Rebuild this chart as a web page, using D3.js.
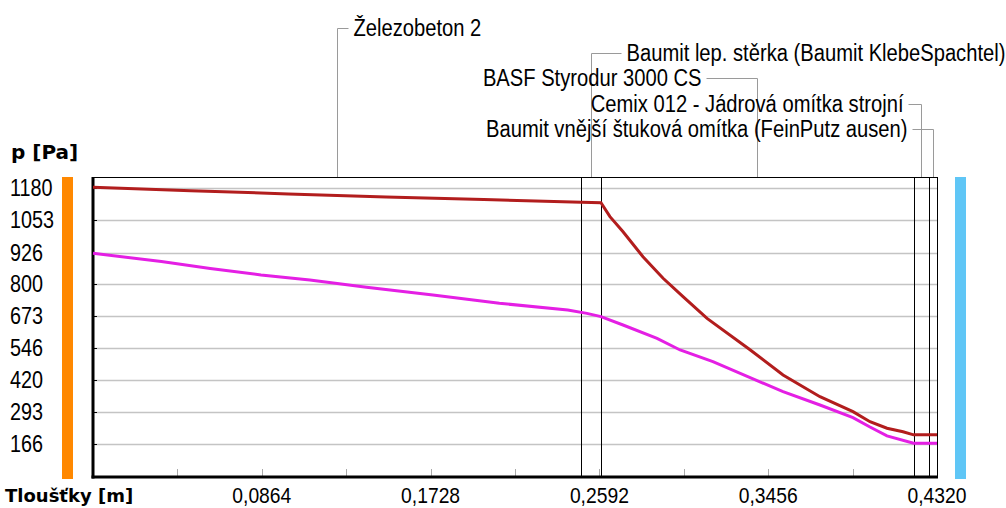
<!DOCTYPE html>
<html>
<head>
<meta charset="utf-8">
<script src="https://cdn.jsdelivr.net/npm/d3@7"></script>
<style>
  body { margin: 0; background: #fff; }
  svg { display: block; }
</style>
</head>
<body>
<div id="chart"></div>
<script>
// layers of the wall, from inside (left) to outside (right)
var layerNames = [
    'Železobeton 2',
    'Baumit lep. stěrka (Baumit KlebeSpachtel)',
    'BASF Styrodur 3000 CS',
    'Cemix 012 - Jádrová omítka strojní',
    'Baumit vnější štuková omítka (FeinPutz ausen)'
]
var layerThickness = [0.25, 0.01, 0.16, 0.008, 0.004]

// axis ticks
var yTicks = [1180, 1053, 926, 800, 673, 546, 420, 293, 166]
var xTicks = [0.0864, 0.1728, 0.2592, 0.3456, 0.4320]

// saturated vapour pressure (red)
var satX = [0, 0.05, 0.10, 0.15, 0.20, 0.25, 0.26, 0.2646, 0.2713, 0.2815, 0.2918, 0.302, 0.3143, 0.3363, 0.3532, 0.3721, 0.389, 0.3977, 0.4064, 0.4146, 0.42, 0.428, 0.432]
var satP = [1184, 1171, 1158, 1146, 1136, 1125, 1123, 1068, 1008, 909, 824, 751, 665, 541, 441, 355, 296, 256, 230, 216, 204, 204, 204]

// partial vapour pressure (magenta)
var parX = [0, 0.035, 0.06, 0.086, 0.111, 0.140, 0.174, 0.208, 0.243, 0.2528, 0.26, 0.2713, 0.2887, 0.3005, 0.3173, 0.3414, 0.3532, 0.3721, 0.389, 0.3977, 0.4064, 0.42, 0.428, 0.432]
var parP = [923, 890, 863, 837, 817, 788, 758, 725, 698, 685, 672, 639, 586, 540, 494, 414, 375, 322, 272, 235, 200, 171, 171, 171]

var width = 1006,
    height = 508,
    plotLeft = 93, plotRight = 937, plotTop = 177, plotBottom = 477

// check whether a narrow font is present, otherwise squeeze the normal one
var narrowFont = "'Liberation Sans Narrow', 'Arial Narrow'"
var ctx = document.createElement('canvas').getContext('2d')
ctx.font = "20px " + narrowFont + ", monospace"
var wNarrow = ctx.measureText('Baumit 0123').width
ctx.font = "20px monospace"
var wMono = ctx.measureText('Baumit 0123').width
var hasNarrow = Math.abs(wNarrow - wMono) > 0.5
var fontFam = hasNarrow ? narrowFont + ", sans-serif" : "'Liberation Sans', Arial, sans-serif"
var squeeze = hasNarrow ? 1 : 0.82

var svg = d3.select('#chart')
    .append('svg')
    .attr('width', width)
    .attr('height', height)

var x = d3.scaleLinear().domain([0, 0.432]).range([plotLeft, plotRight])
var y = d3.scaleLinear().domain([37, 1225]).range([plotBottom, plotTop])

// helper: narrow text placed with a transform
function label(g, tx, ty, str, anchor, size, stretch) {
    return g.append('text')
        .attr('transform', 'translate(' + tx + ',' + ty + ') scale(' + (squeeze * stretch) + ',1)')
        .attr('text-anchor', anchor)
        .style('font-family', fontFam)
        .style('font-size', size + 'px')
        .attr('fill', '#000')
        .text(str)
}

// side bars
svg.append('rect').attr('x', 62).attr('y', plotTop).attr('width', 11).attr('height', plotBottom - plotTop + 2).attr('fill', '#ff8800')
svg.append('rect').attr('x', 955).attr('y', plotTop).attr('width', 11).attr('height', plotBottom - plotTop + 2).attr('fill', '#5fc6f6')

// gridlines
svg.selectAll('.grid')
    .data(yTicks)
    .enter()
    .append('line')
    .attr('x1', plotLeft).attr('x2', plotRight)
    .attr('y1', function(d) { return Math.round(y(d)) + 0.5 })
    .attr('y2', function(d) { return Math.round(y(d)) + 0.5 })
    .attr('stroke', '#c4c4c4')
    .attr('stroke-width', 1.5)

// small ticks on the left border
svg.selectAll('.ltick')
    .data(yTicks)
    .enter()
    .append('line')
    .attr('x1', plotLeft).attr('x2', plotLeft + 4)
    .attr('y1', function(d) { return Math.round(y(d)) + 0.5 })
    .attr('y2', function(d) { return Math.round(y(d)) + 0.5 })
    .attr('stroke', '#000')

// y labels
var gy = svg.append('g')
yTicks.forEach(function(d) {
    label(gy, 10, y(d) + 8, d, 'start', 23, 1.05)
})

// x minor ticks every 0.0432
var minor = d3.range(1, 10).map(function(i) { return i * 0.0432 })
svg.selectAll('.xtick')
    .data(minor)
    .enter()
    .append('line')
    .attr('x1', function(d) { return Math.round(x(d)) + 0.5 })
    .attr('x2', function(d) { return Math.round(x(d)) + 0.5 })
    .attr('y1', plotBottom - 8).attr('y2', plotBottom)
    .attr('stroke', '#aaa')

// x labels
var fmt = function(d) { return d3.format('.4f')(d).replace('.', ',') }
var gx = svg.append('g')
xTicks.forEach(function(d) {
    label(gx, x(d), 503, fmt(d), 'middle', 22, 1.07)
})

// layer boundaries
var bounds = Array.from(d3.cumsum(layerThickness))
var starts = [0].concat(bounds.slice(0, -1))
svg.selectAll('.bound')
    .data(bounds.slice(0, -1))
    .enter()
    .append('line')
    .attr('x1', function(d) { return Math.round(x(d)) + 0.5 })
    .attr('x2', function(d) { return Math.round(x(d)) + 0.5 })
    .attr('y1', plotTop).attr('y2', plotBottom)
    .attr('stroke', '#000')

// frame
svg.append('line').attr('x1', plotLeft).attr('x2', plotRight + 1).attr('y1', plotTop + 0.5).attr('y2', plotTop + 0.5).attr('stroke', '#000')
svg.append('line').attr('x1', plotRight + 0.5).attr('x2', plotRight + 0.5).attr('y1', plotTop).attr('y2', plotBottom).attr('stroke', '#000')
svg.append('line').attr('x1', plotLeft).attr('x2', plotLeft).attr('y1', plotTop).attr('y2', plotBottom + 1.5).attr('stroke', '#000').attr('stroke-width', 3)
svg.append('line').attr('x1', plotLeft - 1.5).attr('x2', plotRight + 1).attr('y1', plotBottom).attr('y2', plotBottom).attr('stroke', '#000').attr('stroke-width', 3)

// curves
var line = d3.line()
    .x(function(d) { return x(d[0]) })
    .y(function(d) { return y(d[1]) })

svg.append('path')
    .datum(d3.zip(satX, satP))
    .attr('d', line)
    .attr('fill', 'none')
    .attr('stroke', '#b21d1d')
    .attr('stroke-width', 3)

svg.append('path')
    .datum(d3.zip(parX, parP))
    .attr('d', line)
    .attr('fill', 'none')
    .attr('stroke', '#e41fe4')
    .attr('stroke-width', 3)

// layer name callouts
var rows = [28, 53, 78, 104, 129]
var lead = [11, 30, -51, -13, -21]
var gl = svg.append('g')
layerNames.forEach(function(name, i) {
    var mid = x(starts[i] + layerThickness[i] / 2)
    var vx = Math.round(mid) + 0.5
    var ry = rows[i] + 0.5
    var ex = vx + lead[i]
    gl.append('path')
        .attr('d', 'M' + ex + ',' + ry + 'H' + vx + 'V' + plotTop)
        .attr('fill', 'none')
        .attr('stroke', '#9a9a9a')
    if (lead[i] > 0) label(gl, ex + 5, rows[i] + 8, name, 'start', 23, 1.07)
    else label(gl, ex - 5, rows[i] + 8, name, 'end', 23, 1.07)
})

// axis titles
svg.append('text')
    .attr('x', 11).attr('y', 159)
    .style('font-family', "'DejaVu Sans', Verdana, sans-serif")
    .style('font-weight', 'bold')
    .style('font-size', '20px')
    .text('p [Pa]')

svg.append('text')
    .attr('x', 5).attr('y', 502)
    .style('font-family', "'DejaVu Sans', Verdana, sans-serif")
    .style('font-weight', 'bold')
    .style('font-size', '18px')
    .text('Tloušťky [m]')
</script>
</body>
</html>
